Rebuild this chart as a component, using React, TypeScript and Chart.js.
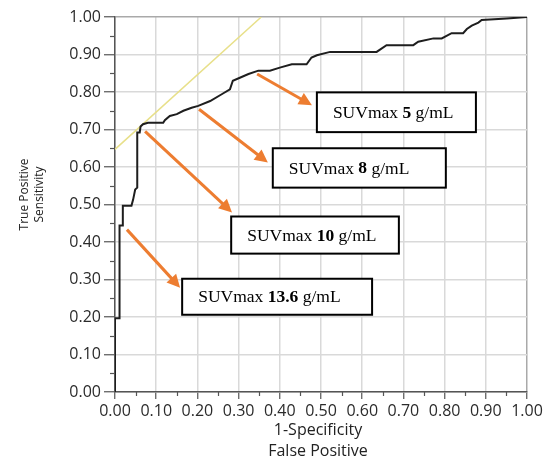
import React, { useEffect, useRef } from 'react';
import { Chart, registerables } from 'chart.js';

Chart.register(...registerables);

// ROC curve (1 - specificity, sensitivity)
const rocFpr = [0, 0, 0.011, 0.011, 0.019, 0.019, 0.040, 0.044, 0.049, 0.054, 0.054, 0.060, 0.062, 0.068, 0.080, 0.117, 0.121, 0.133, 0.150, 0.166, 0.186, 0.202, 0.231, 0.259, 0.279, 0.286, 0.303, 0.324, 0.348, 0.376, 0.400, 0.429, 0.465, 0.477, 0.490, 0.522, 0.635, 0.659, 0.724, 0.736, 0.773, 0.793, 0.817, 0.845, 0.854, 0.866, 0.882, 0.890, 0.951, 1.0];
const rocTpr = [0, 0.197, 0.197, 0.444, 0.444, 0.497, 0.497, 0.513, 0.540, 0.545, 0.692, 0.692, 0.708, 0.714, 0.718, 0.718, 0.725, 0.736, 0.741, 0.750, 0.758, 0.763, 0.776, 0.794, 0.807, 0.830, 0.838, 0.848, 0.857, 0.857, 0.865, 0.874, 0.874, 0.892, 0.898, 0.907, 0.907, 0.925, 0.925, 0.934, 0.943, 0.943, 0.957, 0.957, 0.968, 0.977, 0.985, 0.992, 0.996, 1.0];

// Tangent (45°) reference line
const tangentX = [0, 0.355];
const tangentY = [0.647, 1.0];

// Minor tick values
const minorTicks = [0.05, 0.15, 0.25, 0.35, 0.45, 0.55, 0.65, 0.75, 0.85, 0.95];

// Axis titles
const xTitleLines = ['1-Specificity', 'False Positive'];
const yTitleLines = ['True Positive', 'Sensitivity'];

// Cut-off annotations (SUVmax thresholds)
const cutoffValues = ['5', '8', '10', '13.6'];
const arrowFromX = [0.345, 0.204, 0.073, 0.029];
const arrowFromY = [0.848, 0.754, 0.695, 0.433];
const arrowToX = [0.478, 0.371, 0.284, 0.158];
const arrowToY = [0.765, 0.612, 0.479, 0.278];
const boxLeft = [0.490, 0.383, 0.282, 0.163];
const boxRight = [0.876, 0.803, 0.689, 0.624];
const boxTop = [0.799, 0.650, 0.468, 0.302];
const boxBottom = [0.693, 0.545, 0.369, 0.206];

const SANS = '"Open Sans", "Noto Sans", sans-serif';
const SERIF = '"Liberation Serif", "Times New Roman", serif';

const overlayPlugin = {
  id: 'overlay',
  afterDraw(chart: any) {
    const { ctx, chartArea } = chart;
    const xs = chart.scales.x;
    const ys = chart.scales.y;
    ctx.save();

    // minor ticks
    ctx.strokeStyle = '#555';
    ctx.lineWidth = 1.2;
    for (const v of minorTicks) {
      const px = Math.round(xs.getPixelForValue(v)) + 0.5;
      ctx.beginPath();
      ctx.moveTo(px, chartArea.bottom);
      ctx.lineTo(px, chartArea.bottom + 4);
      ctx.stroke();
      const py = Math.round(ys.getPixelForValue(v)) + 0.5;
      ctx.beginPath();
      ctx.moveTo(chartArea.left, py);
      ctx.lineTo(chartArea.left - 5, py);
      ctx.stroke();
    }

    // axis titles
    ctx.fillStyle = '#222';
    ctx.textAlign = 'center';
    ctx.textBaseline = 'middle';
    ctx.font = `16px ${SANS}`;
    const cx = (chartArea.left + chartArea.right) / 2 - 3;
    ctx.fillText(xTitleLines[0], cx, chartArea.bottom + 38);
    ctx.fillText(xTitleLines[1], cx, chartArea.bottom + 59.5);

    ctx.font = `12px ${SANS}`;
    const cy = (chartArea.top + chartArea.bottom) / 2 - 10;
    ctx.save();
    ctx.translate(25, cy);
    ctx.rotate(-Math.PI / 2);
    ctx.fillText(yTitleLines[0], 0, 0);
    ctx.restore();
    ctx.save();
    ctx.translate(40, cy);
    ctx.rotate(-Math.PI / 2);
    ctx.fillText(yTitleLines[1], 0, 0);
    ctx.restore();

    // annotation boxes
    for (let i = 0; i < cutoffValues.length; i++) {
      const l = xs.getPixelForValue(boxLeft[i]);
      const r = xs.getPixelForValue(boxRight[i]);
      const t = ys.getPixelForValue(boxTop[i]);
      const b = ys.getPixelForValue(boxBottom[i]);
      ctx.fillStyle = '#ffffff';
      ctx.fillRect(l, t, r - l, b - t);
      ctx.strokeStyle = '#000000';
      ctx.lineWidth = 2;
      ctx.strokeRect(l, t, r - l, b - t);

      ctx.fillStyle = '#000000';
      ctx.textAlign = 'left';
      ctx.textBaseline = 'middle';
      const ty = (t + b) / 2 + 1;
      let tx = l + 16;
      const parts: [string, boolean][] = [['SUVmax ', false], [cutoffValues[i], true], [' g/mL', false]];
      for (const [txt, bold] of parts) {
        ctx.font = `${bold ? 'bold ' : ''}17.5px ${SERIF}`;
        ctx.fillText(txt, tx, ty);
        tx += ctx.measureText(txt).width;
      }
    }

    // arrows
    ctx.strokeStyle = '#ED7D31';
    ctx.fillStyle = '#ED7D31';
    ctx.lineWidth = 3;
    ctx.lineCap = 'butt';
    for (let i = 0; i < cutoffValues.length; i++) {
      const x1 = xs.getPixelForValue(arrowFromX[i]);
      const y1 = ys.getPixelForValue(arrowFromY[i]);
      const x2 = xs.getPixelForValue(arrowToX[i]);
      const y2 = ys.getPixelForValue(arrowToY[i]);
      const ang = Math.atan2(y2 - y1, x2 - x1);
      const headLen = 13;
      const headW = 6.5;
      const bx = x2 - headLen * Math.cos(ang);
      const by = y2 - headLen * Math.sin(ang);
      ctx.beginPath();
      ctx.moveTo(x1, y1);
      ctx.lineTo(bx + Math.cos(ang) * 2, by + Math.sin(ang) * 2);
      ctx.stroke();
      ctx.beginPath();
      ctx.moveTo(x2, y2);
      ctx.lineTo(bx - headW * Math.sin(ang), by + headW * Math.cos(ang));
      ctx.lineTo(bx + headW * Math.sin(ang), by - headW * Math.cos(ang));
      ctx.closePath();
      ctx.fill();
    }

    ctx.restore();
  },
};

export default function App() {
  const canvasRef = useRef<HTMLCanvasElement | null>(null);

  useEffect(() => {
    const canvas = canvasRef.current;
    if (!canvas) return;
    const gridColor = (c: any) =>
      c.tick && Math.abs(c.tick.value - 1) < 1e-6 ? '#a9a9a9' : '#d9d9d9';

    const chart = new Chart(canvas, {
      type: 'scatter',
      data: {
        datasets: [
          {
            label: 'ROC',
            data: rocFpr.map((x, i) => ({ x, y: rocTpr[i] })),
            showLine: true,
            borderColor: '#1e1e1e',
            borderWidth: 2,
            pointRadius: 0,
            fill: false,
            tension: 0,
          },
          {
            label: 'Tangent',
            data: tangentX.map((x, i) => ({ x, y: tangentY[i] })),
            showLine: true,
            borderColor: '#e8e08a',
            borderWidth: 1.5,
            pointRadius: 0,
            fill: false,
          },
        ],
      },
      options: {
        responsive: false,
        animation: false,
        devicePixelRatio: 1,
        layout: { padding: { top: 17, right: 19, left: 0, bottom: 0 } },
        plugins: {
          legend: { display: false },
          tooltip: { enabled: false },
          title: { display: false },
        },
        scales: {
          x: {
            type: 'linear',
            min: 0,
            max: 1,
            afterFit: (s: any) => {
              s.height = 69;
            },
            ticks: {
              stepSize: 0.1,
              autoSkip: false,
              maxRotation: 0,
              padding: 3,
              color: '#2b2b2b',
              font: { family: SANS, size: 16 },
              callback: (v: any) => Number(v).toFixed(2),
            },
            grid: {
              color: gridColor,
              lineWidth: 1.5,
              tickLength: 7,
              tickColor: '#555',
              tickWidth: 1.2,
            },
            border: { color: '#555', width: 1.5 },
          },
          y: {
            type: 'linear',
            min: 0,
            max: 1,
            afterFit: (s: any) => {
              s.width = 115;
            },
            ticks: {
              stepSize: 0.1,
              autoSkip: false,
              padding: 3,
              color: '#2b2b2b',
              font: { family: SANS, size: 16 },
              callback: (v: any) => Number(v).toFixed(2),
            },
            grid: {
              color: gridColor,
              lineWidth: 1.5,
              tickLength: 11,
              tickColor: '#555',
              tickWidth: 1.2,
            },
            border: { color: '#555', width: 1.5 },
          },
        },
      },
      plugins: [overlayPlugin],
    });

    return () => chart.destroy();
  }, []);

  return (
    <div style={{ position: 'absolute', left: 0, top: 0, width: 546, height: 461, background: '#fff' }}>
      <canvas ref={canvasRef} width={546} height={461} />
    </div>
  );
}
